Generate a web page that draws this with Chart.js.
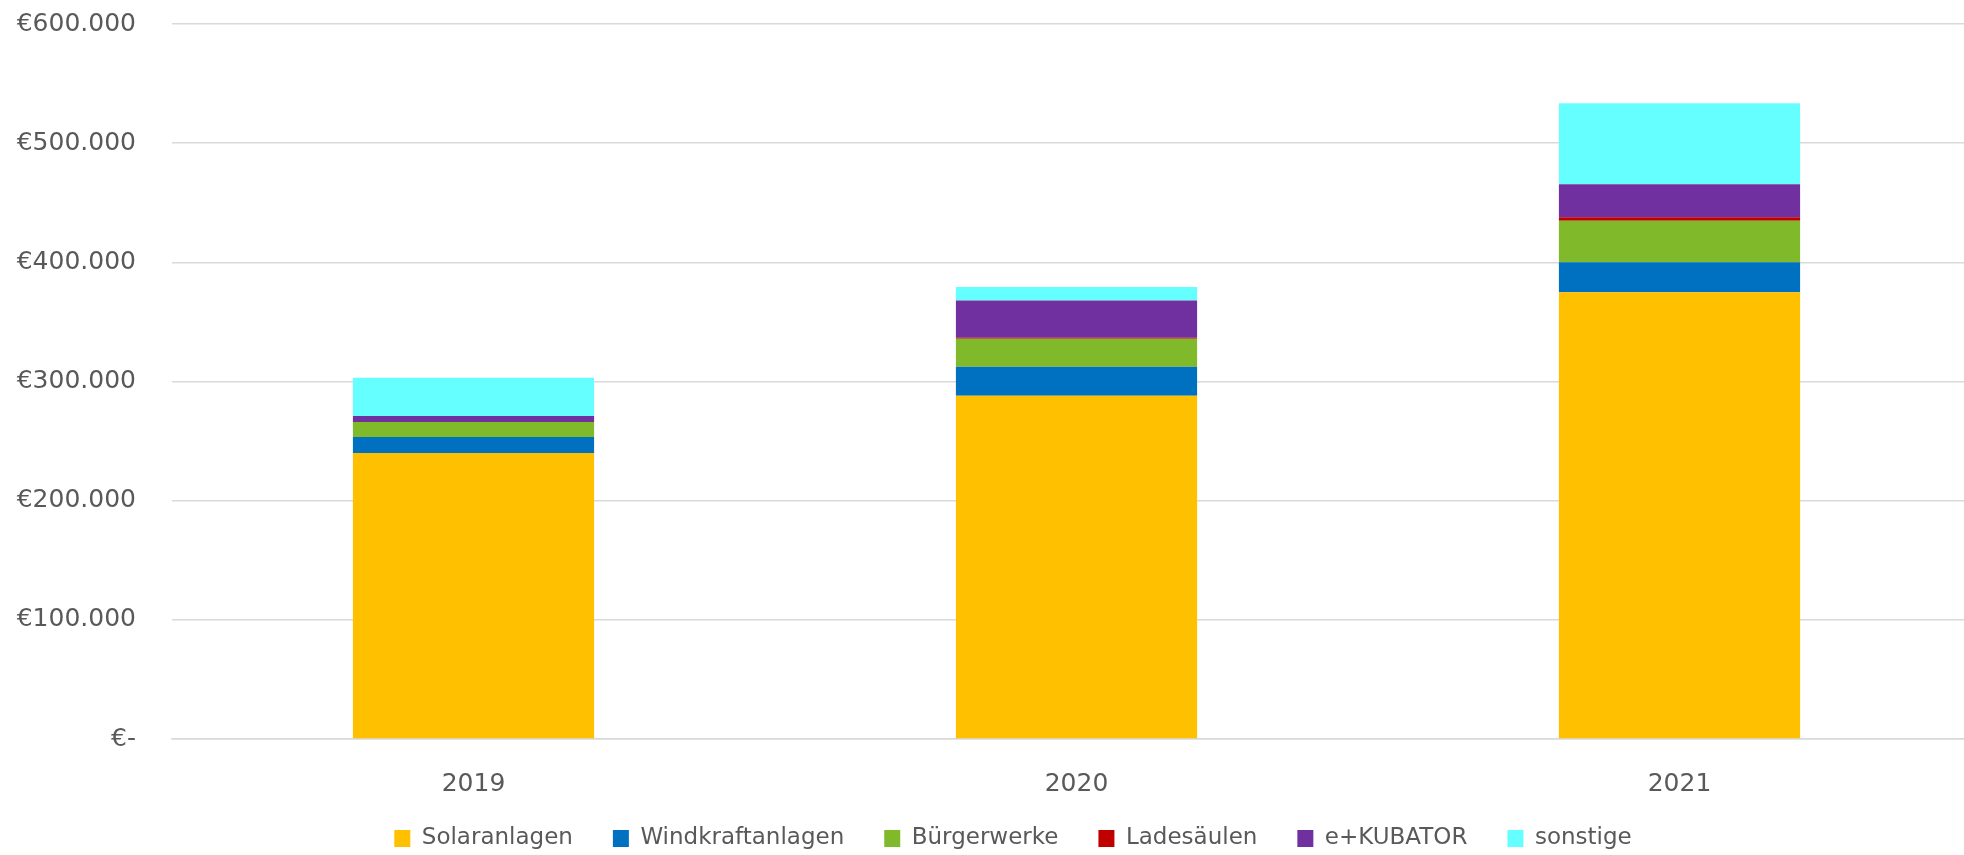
<!DOCTYPE html>
<html>
<head>
<meta charset="utf-8">
<script src="https://cdn.jsdelivr.net/npm/chart.js@4/dist/chart.umd.min.js"></script>
<style>
	html, body { margin: 0; padding: 0; background: #ffffff; }
	#wrap { width: 1964px; height: 855px; }
</style>
</head>
<body>
<div id="wrap"><canvas id="fundingChart" width="1964" height="855"></canvas></div>
<script>
// Jahre und Werte pro Kategorie (in Euro)
const years = ['2019', '2020', '2021'];
const solaranlagen = [240000, 288000, 375000];
const windkraftanlagen = [13500, 24300, 25100];
const buergerwerke = [12600, 23500, 34700];
const ladesaeulen = [0, 1000, 3100];
const ekubator = [5000, 31200, 27600];
const sonstige = [32000, 11400, 68000];

const yTicks = [0, 100000, 200000, 300000, 400000, 500000, 600000];

function euro(v) {
	if (v === 0) return '€-';
	return '€' + v.toLocaleString('de-DE');
}

// x-Achse etwas über den rechten Rand hinaus verlängern (wie im Original),
// Beschriftungsbereiche vergrößern damit nichts abgeschnitten wird
const adjustAxes = {
	id: 'adjustAxes',
	afterLayout(chart) {
		const x = chart.scales.x;
		x.right += 17;
		x.width += 17;
		x.bottom = chart.height;
		x.height = x.bottom - x.top;
		x.configure();
		const y = chart.scales.y;
		y.left = 0;
		y.width = y.right;
	}
};

const ctx = document.getElementById('fundingChart').getContext('2d');

new Chart(ctx, {
	type: 'bar',
	data: {
		labels: years,
		datasets: [
			{ label: 'Solaranlagen', data: solaranlagen, backgroundColor: '#FFC000' },
			{ label: 'Windkraftanlagen', data: windkraftanlagen, backgroundColor: '#0070C0' },
			{ label: 'Bürgerwerke', data: buergerwerke, backgroundColor: '#80B92A' },
			{ label: 'Ladesäulen', data: ladesaeulen, backgroundColor: '#C00000' },
			{ label: 'e+KUBATOR', data: ekubator, backgroundColor: '#7030A0' },
			{ label: 'sonstige', data: sonstige, backgroundColor: '#66FFFF' }
		]
	},
	plugins: [adjustAxes],
	options: {
		responsive: false,
		devicePixelRatio: 1,
		animation: false,
		datasets: {
			bar: { barPercentage: 0.4, categoryPercentage: 1.0 }
		},
		layout: {
			padding: { left: 62, right: 0, top: 24, bottom: -5 }
		},
		scales: {
			x: {
				stacked: true,
				grid: { display: false },
				border: { display: true, color: '#D9D9D9', width: 1.5 },
				afterFit: (axis) => { axis.height = 48; },
				ticks: {
					color: '#595959',
					padding: 22,
					font: { family: 'DejaVu Sans', size: 25 }
				}
			},
			y: {
				stacked: true,
				min: 0,
				max: 600000,
				afterBuildTicks: (axis) => { axis.ticks = yTicks.map(v => ({ value: v })); },
				afterFit: (axis) => { axis.width = 110; },
				grid: { color: '#D9D9D9', lineWidth: 1.5, drawTicks: true, tickLength: 36, tickColor: 'rgba(0,0,0,0)' },
				border: { display: false },
				ticks: {
					color: '#595959',
					padding: 0,
					font: { family: 'DejaVu Sans', size: 25 },
					callback: (v) => euro(v)
				}
			}
		},
		plugins: {
			legend: {
				position: 'bottom',
				labels: {
					color: '#595959',
					boxWidth: 16,
					boxHeight: 17,
					padding: 40,
					font: { family: 'DejaVu Sans', size: 23 }
				}
			},
			tooltip: { enabled: false }
		}
	}
});
</script>
</body>
</html>
